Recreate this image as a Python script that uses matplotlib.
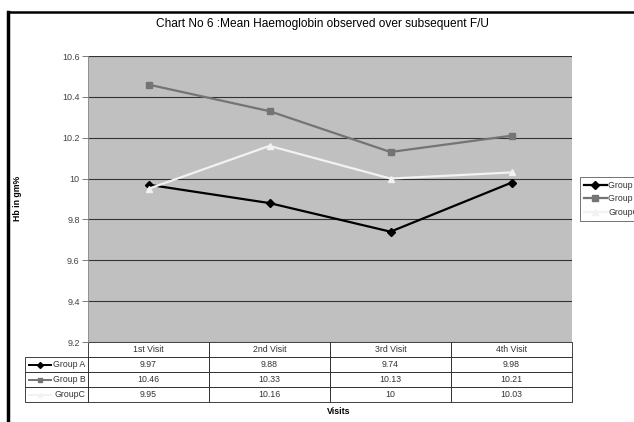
import matplotlib.pyplot as plt
from matplotlib.lines import Line2D

plt.rcParams['font.family'] = ['Liberation Sans', 'DejaVu Sans']

visits = ['1st Visit', '2nd Visit', '3rd Visit', '4th Visit']
group_a = [9.97, 9.88, 9.74, 9.98]
group_b = [10.46, 10.33, 10.13, 10.21]
group_c = [9.95, 10.16, 10.00, 10.03]
group_c_text = ['9.95', '10.16', '10', '10.03']
labels = ['Group A', 'Group B', 'GroupC']
yticks = [9.2, 9.4, 9.6, 9.8, 10.0, 10.2, 10.4, 10.6]

colors = ['#000000', '#747474', '#f2f2f2']
markers = ['D', 's', '^']

W, H = 634, 422
L, R, T, B = 88, 572, 56, 342
fig = plt.figure(figsize=(W / 100, H / 100), dpi=100)
ax = fig.add_axes([L / W, (H - B) / H, (R - L) / W, (B - T) / H])
ax.set_facecolor('#c0c0c0')

xs = [i + 0.5 for i in range(len(visits))]
series = [group_a, group_b, group_c]
for vals, c, m, lab in zip(series, colors, markers, labels):
    ax.plot(xs, vals, color=c, marker=m, markersize=4.5, linewidth=1.6, label=lab,
            markeredgecolor=c, zorder=3)

ax.set_xlim(0, 4)
ax.set_ylim(9.2, 10.6)
ax.set_yticks(yticks)
ax.set_yticklabels([f'{v:g}' for v in yticks], fontsize=6.5, color='#444444')
ax.set_xticks([])
ax.grid(axis='y', color='#333333', linewidth=0.8)
ax.tick_params(axis='y', length=4.5, width=0.6, color='#666666', pad=1.5)
for s in ['top', 'right', 'bottom']:
    ax.spines[s].set_visible(False)
ax.spines['left'].set_color('#888888')
ax.spines['left'].set_linewidth(0.6)

fig.text(17 / W, (H - 198) / H, 'Hb in gm%', fontsize=6.3, fontweight='bold',
         rotation=90, ha='center', va='center')

# data table under the plot
cell_text = [[''] + visits]
for lab, vals in zip(labels, [group_a, group_b]):
    cell_text.append([lab] + [f'{v:g}' for v in vals])
cell_text.append([labels[2]] + group_c_text)

aw = R - L
ah = B - T
tbl = ax.table(cellText=cell_text,
               colWidths=[63] + [121] * 4,
               cellLoc='center',
               bbox=[(25 - L) / aw, -(402 - B) / ah, (R - 25) / aw, (402 - B) / ah])
tbl.auto_set_font_size(False)
tbl.set_fontsize(6.3)
for (r, c), cell in tbl.get_celld().items():
    cell.set_linewidth(0.6)
    cell.set_edgecolor('#222222')
    cell.get_text().set_color('#333333')
    if r == 0 and c == 0:
        cell.visible_edges = ''
    if c == 0 and r > 0:
        cell.get_text().set_ha('right')
        cell.PAD = 0.04

# legend keys in the table's label column
row_mid = [365, 380, 395]
for y, c, m in zip(row_mid, colors, markers):
    yy = (H - y) / H
    fig.add_artist(Line2D([29 / W, 40 / W, 51 / W], [yy, yy, yy], color=c, linewidth=1.4,
                          marker=m, markersize=3, markevery=[1],
                          markeredgecolor=c))

fig.text(339 / W, (H - 411) / H, 'Visits', fontsize=6.3, fontweight='bold', ha='center', va='center')
fig.text(322 / W, (H - 24) / H, 'Chart No 6 :Mean Haemoglobin observed over subsequent F/U',
         fontsize=8.6, ha='center', va='center')

leg = fig.legend(loc='upper left', bbox_to_anchor=(580 / W, (H - 177) / H), fontsize=6.3,
                 frameon=True, fancybox=False, edgecolor='#333333', handlelength=2.6,
                 borderpad=0.45, labelspacing=0.5, handletextpad=0.2, borderaxespad=0)
leg.get_frame().set_linewidth(0.6)
for t in leg.get_texts():
    t.set_color('#333333')

# outer chart border
fig.add_artist(Line2D([8 / W, 8 / W], [0, (H - 12) / H], color='black', linewidth=2.5))
fig.add_artist(Line2D([8 / W, 1], [(H - 12) / H, (H - 12) / H], color='black', linewidth=1.8))

fig.savefig('out.png', dpi=100)
